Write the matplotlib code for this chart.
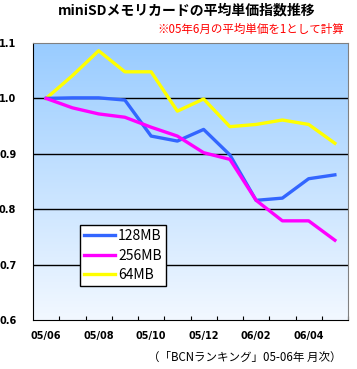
import numpy as np
import matplotlib.pyplot as plt
from matplotlib.colors import LinearSegmentedColormap

plt.rcParams['font.family'] = ['Noto Sans CJK JP', 'DejaVu Sans']

months = ["05/06", "05/07", "05/08", "05/09", "05/10", "05/11",
          "05/12", "06/01", "06/02", "06/03", "06/04", "06/05"]
mb128 = [1.000, 1.001, 1.001, 0.997, 0.932, 0.923, 0.944, 0.898, 0.816, 0.820, 0.855, 0.862]
mb256 = [1.000, 0.983, 0.972, 0.966, 0.948, 0.932, 0.902, 0.890, 0.816, 0.779, 0.779, 0.744]
mb64 = [1.000, 1.041, 1.086, 1.048, 1.048, 0.977, 0.999, 0.949, 0.953, 0.961, 0.953, 0.919]
yticks = [0.6, 0.7, 0.8, 0.9, 1.0, 1.1]

fig = plt.figure(figsize=(3.57, 3.69), dpi=100)
ax = fig.add_axes([33 / 357, 1 - 320 / 369, 315 / 357, 277 / 369])

x = np.arange(len(months))
ax.set_xlim(-0.5, len(months) - 0.5)
ax.set_ylim(0.6, 1.1)

# gradient background
cmap = LinearSegmentedColormap.from_list("bg", ["#F2F8FF", "#99CCFF"])
grad = np.linspace(0, 1, 256).reshape(-1, 1)
ax.imshow(grad, cmap=cmap, aspect="auto", origin="lower",
          extent=(-0.5, len(months) - 0.5, 0.6, 1.1), zorder=0)

for v in yticks[1:-1]:
    ax.axhline(v, color="black", lw=1, zorder=1)

ax.plot(x, mb128, color="#3366FF", lw=2.4, label="128MB", zorder=3)
ax.plot(x, mb256, color="#FF00FF", lw=2.4, label="256MB", zorder=3)
ax.plot(x, mb64, color="#FFFF00", lw=2.4, label="64MB", zorder=2)

ax.set_yticks(yticks)
ax.set_yticklabels([f"{v:.1f}" for v in yticks], fontsize=7, fontweight="bold",
                   family="DejaVu Sans")
ax.tick_params(axis="y", length=0, pad=12)
ax.set_xticks(np.arange(len(months)) + 0.5, minor=False)
ax.set_xticklabels([])
ax.set_xticks(x[::2], minor=True)
ax.set_xticklabels(months[::2], minor=True, fontsize=7, fontweight="bold",
                   family="DejaVu Sans")
ax.tick_params(axis="x", which="major", direction="in", length=3, color="black")
ax.tick_params(axis="x", which="minor", length=0, pad=8)

for side in ["top", "right"]:
    ax.spines[side].set_color("#808080")
for side in ["left", "bottom"]:
    ax.spines[side].set_color("black")

leg = ax.legend(loc="upper left", bbox_to_anchor=(47 / 315, 95 / 277),
                fontsize=10, frameon=True, fancybox=False, handlelength=2.2,
                handletextpad=0.25, borderpad=0.3, labelspacing=0.4,
                borderaxespad=0)
leg.get_frame().set_edgecolor("black")
leg.get_frame().set_linewidth(1)
leg.get_frame().set_facecolor("white")
leg.get_frame().set_alpha(1)

fig.text(187 / 357, 1 - 10 / 369, "miniSDメモリカードの平均単価指数推移",
         ha="center", va="center", fontsize=10, fontweight="bold")
fig.text(344 / 357, 1 - 29 / 369, "※05年6月の平均単価を1として計算",
         ha="right", va="center", fontsize=8.3, color="red")
fig.text(342 / 357, 1 - 357 / 369, "（「BCNランキング」05-06年 月次）",
         ha="right", va="center", fontsize=8.3)

fig.savefig("out.png", dpi=100)
